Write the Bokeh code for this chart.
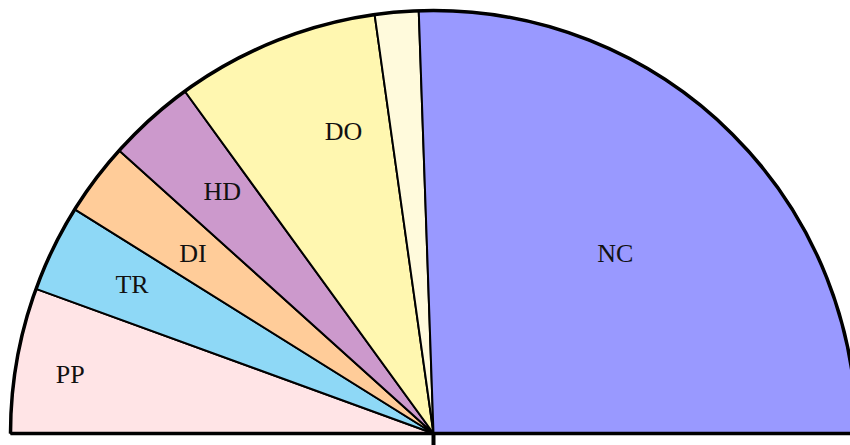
import math
from bokeh.plotting import figure
from bokeh.models import ColumnDataSource
from bokeh.core.properties import value
from bokeh.embed import file_html
from bokeh.resources import INLINE

# Data (seats per party, left to right)
parties = ["PP", "TR", "DI", "HD", "DO", "", "NC"]
seats = [10, 6, 5, 6, 14, 3, 46]
colors = ["#FFE4E6", "#8ED8F6", "#FFCC99", "#CC99CC", "#FFF7B0", "#FFFADC", "#9999FF"]

# label placement (angle from left in degrees, radius fraction)
label_angle_deg = [9.2, 26.3, 36.8, 48.9, 73.4, None, 135.3]
label_rfrac = [0.87, 0.795, 0.71, 0.76, 0.745, None, 0.605]

R = 423.0
W, H = 850, 445
cx_px, cy_px = 433, 433  # center in canvas px

total = sum(seats)
starts, ends = [], []
cum = 0
for s in seats:
    a0 = math.pi - (cum + s) / total * math.pi
    a1 = math.pi - cum / total * math.pi
    starts.append(a0)
    ends.append(a1)
    cum += s

src = ColumnDataSource(dict(x=[0] * len(seats), y=[0] * len(seats),
                            start=starts, end=ends, color=colors))

p = figure(width=W, height=H, output_backend="svg", toolbar_location=None,
           x_range=(-cx_px, W - cx_px), y_range=(-(H - cy_px), cy_px),
           min_border=0, outline_line_color=None)
p.axis.visible = False
p.grid.visible = False
p.background_fill_color = "white"
p.border_fill_color = "white"

p.wedge(x="x", y="y", radius=R, start_angle="start", end_angle="end",
        fill_color="color", line_color="black", line_width=2, source=src)

# outer arc
p.arc(x=0, y=0, radius=R, start_angle=0, end_angle=math.pi,
      line_color="black", line_width=3.5)
# baseline
p.segment(x0=-R, y0=0, x1=W, y1=0, line_color="black", line_width=3.5)
# small tick below centre
p.segment(x0=0, y0=0, x1=0, y1=-20, line_color="black", line_width=4)

lx, ly, lt = [], [], []
for name, ad, rf in zip(parties, label_angle_deg, label_rfrac):
    if not name:
        continue
    a = math.pi - math.radians(ad)
    lx.append(rf * R * math.cos(a))
    ly.append(rf * R * math.sin(a))
    lt.append(name)

p.text(x=lx, y=ly, text=lt, text_align="center", text_baseline="middle",
       text_font=value("Liberation Serif"), text_font_size="26px",
       text_color="#111111")

open("out.html", "w").write(file_html(p, INLINE))
